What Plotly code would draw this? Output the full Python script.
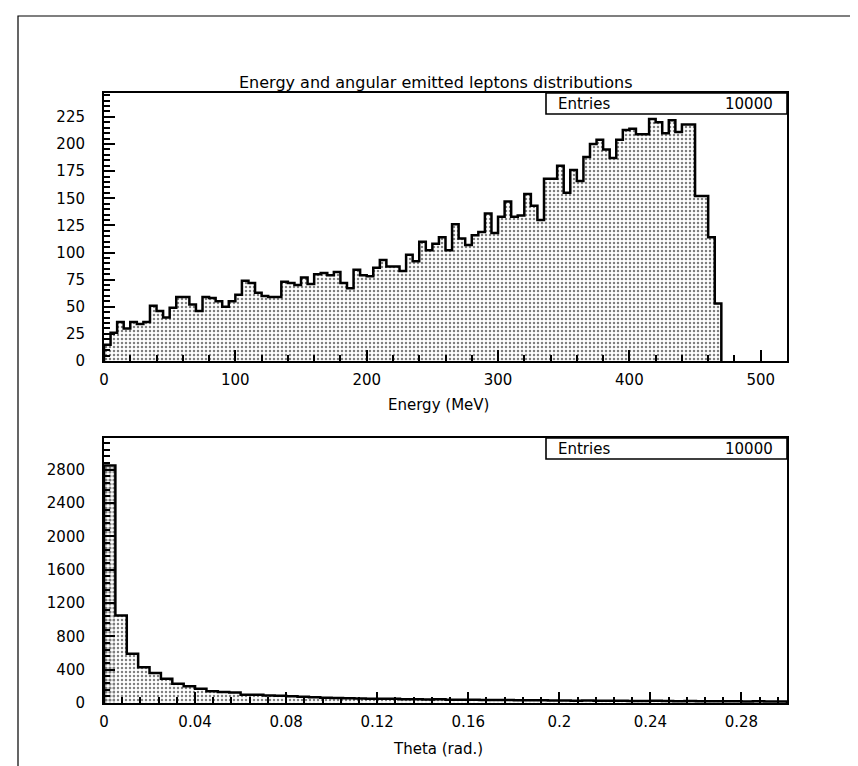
import plotly.graph_objects as go

# ---------------- data ----------------
title_text = "Energy and angular emitted leptons distributions"
energy_title = "Energy (MeV)"
theta_title = "Theta (rad.)"
entries_label = "Entries"
entries_value = "10000"

energy_bin_width = 5.0
energy_counts = [
    15, 26, 36, 30, 36, 34, 36, 51, 46, 40,
    49, 59, 59, 52, 46, 59, 58, 55, 50, 55,
    61, 74, 72, 63, 60, 59, 59, 73, 72, 70,
    77, 71, 80, 81, 79, 82, 72, 67, 84, 79,
    78, 86, 93, 87, 87, 83, 98, 92, 110, 102,
    108, 114, 102, 126, 113, 107, 116, 119, 136, 118,
    133, 147, 133, 134, 154, 143, 130, 168, 168, 180,
    155, 176, 166, 188, 200, 204, 195, 187, 204, 213,
    214, 209, 209, 223, 220, 210, 222, 211, 218, 218,
    152, 152, 114, 53,
]
energy_range = [0, 520]
energy_yrange = [0, 247]
energy_xticks = [0, 100, 200, 300, 400, 500]
energy_yticks = [0, 25, 50, 75, 100, 125, 150, 175, 200, 225]

theta_bin_width = 0.005
theta_counts = [
    2850, 1050, 590, 430, 360, 290, 230, 200, 170, 140,
    132, 125, 100, 100, 90, 88, 82, 76, 70, 64,
    60, 58, 55, 52, 50, 50, 46, 45, 42, 44,
    40, 38, 40, 36, 35, 37, 33, 32, 34, 30,
    30, 28, 31, 27, 26, 28, 25, 24, 26, 23,
    22, 24, 21, 22, 20, 21, 19, 20, 18, 19,
]
theta_range = [0, 0.3]
theta_yrange = [0, 3180]
theta_xticks = [0, 0.04, 0.08, 0.12, 0.16, 0.2, 0.24, 0.28]
theta_xticklabels = ["0", "0.04", "0.08", "0.12", "0.16", "0.2", "0.24", "0.28"]
theta_yticks = [0, 400, 800, 1200, 1600, 2000, 2400, 2800]

# ---------------- layout helpers (pixels) ----------------
W, H = 858, 766
FONT = "DejaVu Sans"


def fx(p):
    return p / W


def fy(p):
    return 1 - p / H


X_LEFT, X_RIGHT = 96, 779
TOP_T, TOP_B = 85, 353
BOT_T, BOT_B = 430, 695


def centers(counts, w):
    return [(i + 0.5) * w for i in range(len(counts))]


def outline(counts, w):
    n = len(counts)
    xs = [0.0] + [i * w for i in range(n)] + [n * w, n * w]
    ys = [0.0] + list(counts) + [counts[-1], 0.0]
    return xs, ys


fig = go.Figure()

PATTERN = dict(shape=".", fgcolor="black", bgcolor="white", size=4, solidity=0.3)

# energy histogram
fig.add_trace(go.Bar(
    x=centers(energy_counts, energy_bin_width), y=energy_counts,
    width=energy_bin_width, xaxis="x", yaxis="y",
    marker=dict(color="white", line=dict(width=0), pattern=PATTERN),
    showlegend=False, hoverinfo="skip"))
ex, ey = outline(energy_counts, energy_bin_width)
fig.add_trace(go.Scatter(x=ex, y=ey, mode="lines", line=dict(color="black", width=2.5, shape="hv"),
                         xaxis="x", yaxis="y", showlegend=False, hoverinfo="skip"))

# theta histogram
theta_solidity = [0.5 if i == 0 else 0.3 for i in range(len(theta_counts))]
fig.add_trace(go.Bar(
    x=centers(theta_counts, theta_bin_width), y=theta_counts,
    width=theta_bin_width, xaxis="x2", yaxis="y2",
    marker=dict(color="white", line=dict(width=0),
                pattern=dict(shape=".", fgcolor="black", bgcolor="white", size=4,
                             solidity=theta_solidity)),
    showlegend=False, hoverinfo="skip"))
tx, ty = outline(theta_counts, theta_bin_width)
fig.add_trace(go.Scatter(x=tx, y=ty, mode="lines", line=dict(color="black", width=2.5, shape="hv"),
                         xaxis="x2", yaxis="y2", showlegend=False, hoverinfo="skip"))

axis_common = dict(showgrid=False, zeroline=False, showline=True, linecolor="black", linewidth=2,
                   mirror=True, ticks="inside", ticklen=11, tickwidth=1.5, tickcolor="black",
                   tickfont=dict(family=FONT, size=15, color="black"), automargin=False)

fig.update_layout(
    width=W, height=H, margin=dict(l=0, r=0, t=0, b=0),
    paper_bgcolor="white", plot_bgcolor="white", bargap=0, barmode="overlay",
    font=dict(family=FONT, color="black"),
    xaxis=dict(axis_common, domain=[fx(X_LEFT), fx(X_RIGHT)], range=energy_range, anchor="y",
               tickvals=energy_xticks, ticklabelstandoff=4,
               minor=dict(dtick=20, ticks="inside", ticklen=6, tickcolor="black")),
    yaxis=dict(axis_common, domain=[fy(TOP_B), fy(TOP_T)], range=energy_yrange, anchor="x",
               tickvals=energy_yticks, ticklabelstandoff=14,
               minor=dict(dtick=5, ticks="inside", ticklen=6, tickcolor="black")),
    xaxis2=dict(axis_common, domain=[fx(X_LEFT), fx(X_RIGHT)], range=theta_range, anchor="y2",
                tickvals=theta_xticks, ticktext=theta_xticklabels, ticklabelstandoff=4,
                minor=dict(dtick=0.008, ticks="inside", ticklen=6, tickcolor="black")),
    yaxis2=dict(axis_common, domain=[fy(BOT_B), fy(BOT_T)], range=theta_yrange, anchor="x2",
                tickvals=theta_yticks, ticklabelstandoff=14,
                minor=dict(dtick=80, ticks="inside", ticklen=6, tickcolor="black")),
)

shapes = []
annotations = []

# outer page border
shapes.append(dict(type="rect", xref="paper", yref="paper",
                   x0=fx(10), x1=fx(853), y0=fy(800), y1=fy(8),
                   line=dict(color="black", width=1.2), fillcolor="rgba(0,0,0,0)"))

# entries boxes
for top in (TOP_T, BOT_T):
    shapes.append(dict(type="rect", xref="paper", yref="paper",
                       x0=fx(538), x1=fx(X_RIGHT), y0=fy(top + 21), y1=fy(top),
                       line=dict(color="black", width=1.6), fillcolor="white"))
    annotations.append(dict(xref="paper", yref="paper", x=fx(548), y=fy(top + 10.5),
                            text=entries_label, showarrow=False, xanchor="left", yanchor="middle",
                            font=dict(family=FONT, size=15, color="black")))
    annotations.append(dict(xref="paper", yref="paper", x=fx(767), y=fy(top + 10.5),
                            text=entries_value, showarrow=False, xanchor="right", yanchor="middle",
                            font=dict(family=FONT, size=15, color="black")))

# title and axis titles
annotations.append(dict(xref="paper", yref="paper", x=fx(428), y=fy(74), text=title_text,
                        showarrow=False, xanchor="center", yanchor="middle",
                        font=dict(family=FONT, size=16, color="black")))
annotations.append(dict(xref="paper", yref="paper", x=fx(430), y=fy(397), text=energy_title,
                        showarrow=False, xanchor="center", yanchor="middle",
                        font=dict(family=FONT, size=15, color="black")))
annotations.append(dict(xref="paper", yref="paper", x=fx(430), y=fy(741), text=theta_title,
                        showarrow=False, xanchor="center", yanchor="middle",
                        font=dict(family=FONT, size=15, color="black")))

fig.update_layout(shapes=shapes, annotations=annotations)

fig.write_html("out.html")
